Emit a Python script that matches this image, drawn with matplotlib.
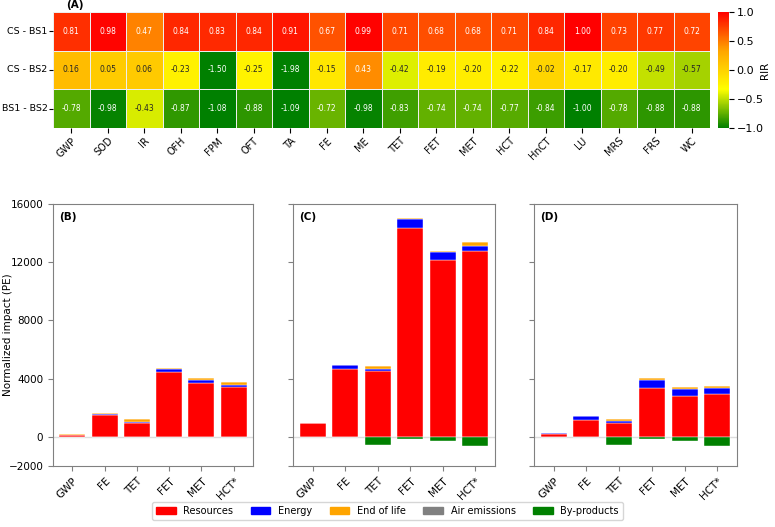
import matplotlib
matplotlib.use("Agg")
import matplotlib.pyplot as plt
import numpy as np
import seaborn as sns
from matplotlib.colors import LinearSegmentedColormap
from matplotlib.patches import Patch

# heatmap data
categories = ['GWP', 'SOD', 'IR', 'OFH', 'FPM', 'OFT', 'TA', 'FE', 'ME',
              'TET', 'FET', 'MET', 'HCT', 'HnCT', 'LU', 'MRS', 'FRS', 'WC']
rows = ['CS - BS1', 'CS - BS2', 'BS1 - BS2']
cs_bs1 = [0.81, 0.98, 0.47, 0.84, 0.83, 0.84, 0.91, 0.67, 0.99,
          0.71, 0.68, 0.68, 0.71, 0.84, 1.00, 0.73, 0.77, 0.72]
cs_bs2 = [0.16, 0.05, 0.06, -0.23, -1.50, -0.25, -1.98, -0.15, 0.43,
          -0.42, -0.19, -0.20, -0.22, -0.02, -0.17, -0.20, -0.49, -0.57]
bs1_bs2 = [-0.78, -0.98, -0.43, -0.87, -1.08, -0.88, -1.09, -0.72, -0.98,
           -0.83, -0.74, -0.74, -0.77, -0.84, -1.00, -0.78, -0.88, -0.88]

# stacked bar data
impacts = ['GWP', 'FE', 'TET', 'FET', 'MET', 'HCT*']
sources = ['Resources', 'Energy', 'End of life', 'Air emissions', 'By-products']
colors = ['red', 'blue', 'orange', 'grey', 'green']

b_res = [120, 1510, 985, 4470, 3690, 3420]
b_ene = [10, 90, 50, 200, 230, 160]
b_eol = [50, 50, 200, 90, 110, 180]
b_air = [0, 0, 0, 0, 0, 0]
b_byp = [0, 0, 0, 0, 0, 0]

c_res = [930, 4650, 4515, 14370, 12150, 12790]
c_ene = [0, 275, 160, 600, 530, 345]
c_eol = [30, 10, 180, 90, 115, 230]
c_air = [0, 0, 0, 0, 0, 0]
c_byp = [-20, -20, -550, -160, -250, -600]

d_res = [200, 1170, 920, 3370, 2820, 2960]
d_ene = [40, 250, 160, 530, 500, 370]
d_eol = [10, 10, 180, 140, 140, 180]
d_air = [0, 0, 0, 0, 0, 0]
d_byp = [-20, -20, -550, -160, -250, -600]

panels = [('(B)', b_res, b_ene, b_eol, b_air, b_byp),
          ('(C)', c_res, c_ene, c_eol, c_air, c_byp),
          ('(D)', d_res, d_ene, d_eol, d_air, d_byp)]

W, H = 775, 527
fig = plt.figure(figsize=(W / 100, H / 100), dpi=100)

def px(x0, y0, x1, y1):
    return [x0 / W, 1 - y1 / H, (x1 - x0) / W, (y1 - y0) / H]

# heatmap
cmap = LinearSegmentedColormap.from_list('rir', ['green', 'yellow', 'orange', 'red'])
ax_h = fig.add_axes(px(53, 12, 710, 128))
ax_c = fig.add_axes(px(718, 12, 729, 128))
data = np.array([cs_bs1, cs_bs2, bs1_bs2])
sns.heatmap(data, ax=ax_h, cbar_ax=ax_c, cmap=cmap, vmin=-1, vmax=1,
            annot=True, fmt='.2f', annot_kws={'size': 5.5},
            linewidths=0.6, linecolor='#eeeeee',
            xticklabels=categories, yticklabels=rows,
            cbar_kws={'ticks': [-1, -0.5, 0, 0.5, 1]})
ax_h.set_xticklabels(categories, rotation=45, ha='right', rotation_mode='anchor', fontsize=7)
ax_h.set_yticklabels(rows, rotation=0, fontsize=6.8)
ax_h.tick_params(axis='x', pad=2)
ax_h.tick_params(axis='y', pad=1, length=3)
ax_c.tick_params(labelsize=8, pad=2)
fig.text(765 / W, 1 - 70 / H, 'RIR', rotation=90, fontsize=7.5, ha='center', va='center')
fig.text(66 / W, 1 - 5 / H, '(A)', fontsize=7.5, fontweight='bold', va='center')

# stacked bars
boxes = [(53, 204, 253, 466), (293, 204, 495, 466), (534, 204, 737, 466)]
x = np.arange(len(impacts))
for (label, res, ene, eol, air, byp), box in zip(panels, boxes):
    ax = fig.add_axes(px(*box))
    ax.axhline(0, color='#dddddd', lw=1, zorder=0)
    bottom = np.zeros(len(impacts))
    for vals, col in zip([res, ene, eol, air], colors[:4]):
        ax.bar(x, vals, 0.8, bottom=bottom, color=col, edgecolor='white', linewidth=0.3)
        bottom += np.array(vals)
    ax.bar(x, byp, 0.8, color=colors[4], edgecolor='white', linewidth=0.3)
    ax.set_ylim(-2000, 16000)
    ax.set_xlim(-0.6, 5.6)
    ax.set_yticks([-2000, 0, 4000, 8000, 12000, 16000])
    ax.set_xticks(x)
    ax.set_xticklabels(impacts, rotation=45, ha='right', rotation_mode='anchor', fontsize=7)
    for s in ax.spines.values():
        s.set_color('grey')
    ax.tick_params(colors='grey', labelcolor='black', labelsize=7.5)
    if label == '(B)':
        ax.set_ylabel('Normalized impact (PE)', fontsize=7.5)
        ax.yaxis.set_label_coords(-0.2, 0.5)
    else:
        ax.set_yticklabels([])
    ax.text(0.03, 0.97, label, transform=ax.transAxes, fontsize=7.5,
            fontweight='bold', va='top', ha='left')

handles = [Patch(color=c, label=s) for s, c in zip(sources, colors)]
fig.legend(handles=handles, loc='lower center', bbox_to_anchor=(0.5, 0.005),
           ncol=5, fontsize=7, handlelength=2.0, columnspacing=1.8, frameon=True)

fig.savefig('out.png', dpi=100)
